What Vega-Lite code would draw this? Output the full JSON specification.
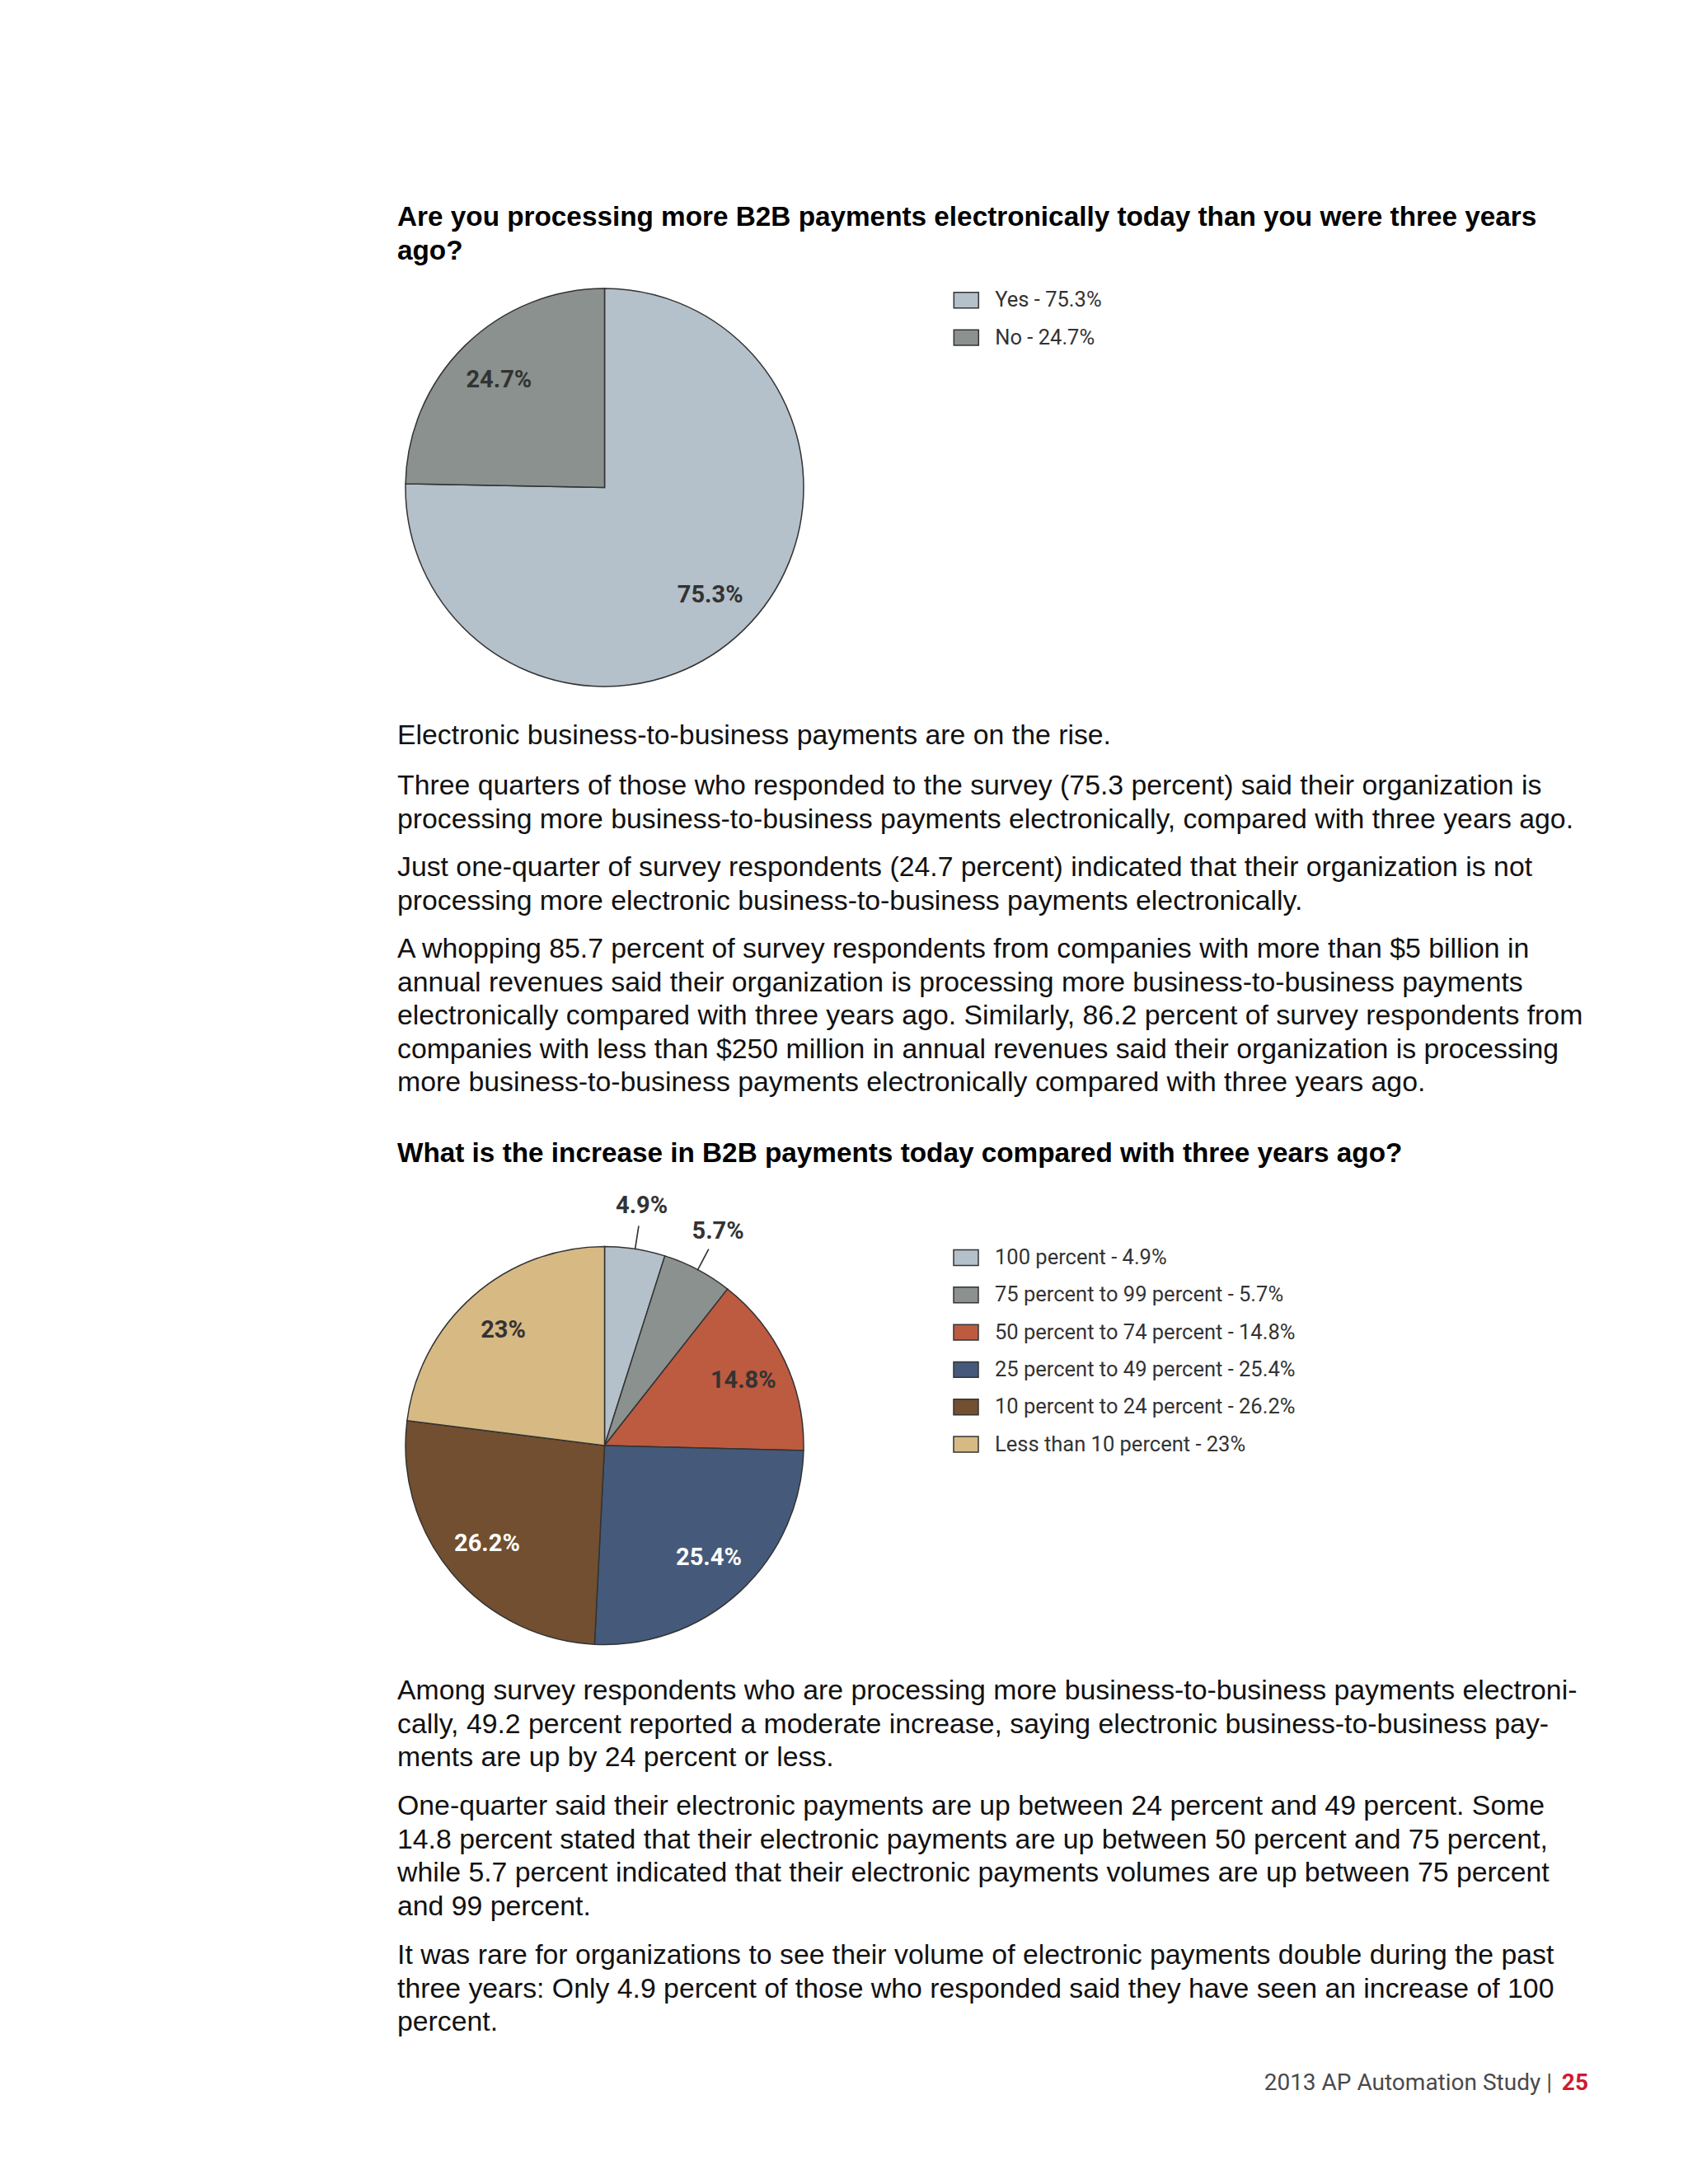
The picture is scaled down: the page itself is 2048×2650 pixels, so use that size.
{
  "$schema": "https://vega.github.io/schema/vega-lite/v6.json",
  "background": "#ffffff",
  "padding": {"left": 482, "top": 247, "right": 121, "bottom": 100},
  "config": {"view": {"stroke": null}},
  "bounds": "flush",
  "spacing": 0,
  "resolve": {"scale": {"color": "independent", "theta": "independent"}, "legend": {"color": "independent"}},
  "vconcat": [
    {
      "width": 1445, "height": 58.5,
      "data": {"values": [{"line": "Are you processing more B2B payments electronically today than you were three years\nago?"}]},
      "mark": {"type": "text", "align": "left", "baseline": "top", "x": 0, "y": 0, "lineBreak": "\n", "lineHeight": 40.6, "font": "Liberation Sans", "fontSize": 33.3, "fontWeight": "bold", "color": "#000000"},
      "encoding": {"text": {"field": "line", "type": "nominal"}}
    },
    {
      "width": 503, "height": 569,
      "data": {"values": [
        {"answer": "Yes - 75.3%", "pct": "75.3%", "share": 75.3, "rank": 1},
        {"answer": "No - 24.7%", "pct": "24.7%", "share": 24.7, "rank": 2}
      ]},
      "layer": [
        {
          "mark": {"type": "arc", "radius": 241.5, "stroke": "#333333", "strokeWidth": 1.5},
          "encoding": {
            "theta": {"field": "share", "type": "quantitative", "stack": true},
            "order": {"field": "rank", "type": "quantitative"},
            "color": {
              "field": "answer", "type": "nominal",
              "scale": {"domain": ["Yes - 75.3%", "No - 24.7%"], "range": ["#b4c0ca", "#8a918e"]},
              "legend": {"title": null, "orient": "right", "offset": 129.7, "padding": 41.3, "symbolType": "M-1,-0.63H1V0.63H-1Z", "symbolSize": 900, "symbolStrokeColor": "#333333", "symbolStrokeWidth": 1.5, "symbolOpacity": 1, "labelFont": "Roboto", "labelFontSize": 25.5, "labelColor": "#333333", "rowPadding": 15.3, "labelOffset": 19}
            }
          }
        },
        {
          "mark": {"type": "text", "radius": 183, "font": "Roboto", "fontSize": 29, "fontWeight": "bold", "color": "#333333"},
          "encoding": {
            "theta": {"field": "share", "type": "quantitative", "stack": true},
            "order": {"field": "rank", "type": "quantitative"},
            "text": {"field": "pct", "type": "nominal"}
          }
        }
      ]
    },
    {
      "width": 1445, "height": 60.4,
      "data": {"values": [{"line": "Electronic business-to-business payments are on the rise."}]},
      "mark": {"type": "text", "align": "left", "baseline": "top", "x": 0, "y": 0, "lineBreak": "\n", "lineHeight": 40.6, "font": "Liberation Sans", "fontSize": 33.8, "color": "#111111"},
      "encoding": {"text": {"field": "line", "type": "nominal"}}
    },
    {
      "width": 1445, "height": 98.5,
      "data": {"values": [{"line": "Three quarters of those who responded to the survey (75.3 percent) said their organization is\nprocessing more business-to-business payments electronically, compared with three years ago."}]},
      "mark": {"type": "text", "align": "left", "baseline": "top", "x": 0, "y": 0, "lineBreak": "\n", "lineHeight": 40.6, "font": "Liberation Sans", "fontSize": 33.8, "color": "#111111"},
      "encoding": {"text": {"field": "line", "type": "nominal"}}
    },
    {
      "width": 1445, "height": 98.5,
      "data": {"values": [{"line": "Just one-quarter of survey respondents (24.7 percent) indicated that their organization is not\nprocessing more electronic business-to-business payments electronically."}]},
      "mark": {"type": "text", "align": "left", "baseline": "top", "x": 0, "y": 0, "lineBreak": "\n", "lineHeight": 40.6, "font": "Liberation Sans", "fontSize": 33.8, "color": "#111111"},
      "encoding": {"text": {"field": "line", "type": "nominal"}}
    },
    {
      "width": 1445, "height": 248.5,
      "data": {"values": [{"line": "A whopping 85.7 percent of survey respondents from companies with more than $5 billion in\nannual revenues said their organization is processing more business-to-business payments\nelectronically compared with three years ago. Similarly, 86.2 percent of survey respondents from\ncompanies with less than $250 million in annual revenues said their organization is processing\nmore business-to-business payments electronically compared with three years ago."}]},
      "mark": {"type": "text", "align": "left", "baseline": "top", "x": 0, "y": 0, "lineBreak": "\n", "lineHeight": 40.6, "font": "Liberation Sans", "fontSize": 33.8, "color": "#111111"},
      "encoding": {"text": {"field": "line", "type": "nominal"}}
    },
    {
      "width": 1445, "height": 89,
      "data": {"values": [{"line": "What is the increase in B2B payments today compared with three years ago?"}]},
      "mark": {"type": "text", "align": "left", "baseline": "top", "x": 0, "y": 0, "lineBreak": "\n", "lineHeight": 40.6, "font": "Liberation Sans", "fontSize": 33.3, "fontWeight": "bold", "color": "#000000"},
      "encoding": {"text": {"field": "line", "type": "nominal"}}
    },
    {
      "width": 503, "height": 562,
      "data": {"values": [
        {"increase": "100 percent - 4.9%", "pct": "4.9%", "share": 4.9, "rank": 1},
        {"increase": "75 percent to 99 percent - 5.7%", "pct": "5.7%", "share": 5.7, "rank": 2},
        {"increase": "50 percent to 74 percent - 14.8%", "pct": "14.8%", "share": 14.8, "rank": 3},
        {"increase": "25 percent to 49 percent - 25.4%", "pct": "25.4%", "share": 25.4, "rank": 4},
        {"increase": "10 percent to 24 percent - 26.2%", "pct": "26.2%", "share": 26.2, "rank": 5},
        {"increase": "Less than 10 percent - 23%", "pct": "23%", "share": 23, "rank": 6}
      ]},
      "layer": [
        {
          "mark": {"type": "arc", "radius": 241.5, "stroke": "#333333", "strokeWidth": 1.5},
          "encoding": {
            "theta": {"field": "share", "type": "quantitative", "stack": true},
            "order": {"field": "rank", "type": "quantitative"},
            "color": {
              "field": "increase", "type": "nominal",
              "scale": {"domain": ["100 percent - 4.9%", "75 percent to 99 percent - 5.7%", "50 percent to 74 percent - 14.8%", "25 percent to 49 percent - 25.4%", "10 percent to 24 percent - 26.2%", "Less than 10 percent - 23%"], "range": ["#b4c0ca", "#8a918e", "#bd5b40", "#455a7a", "#714f30", "#d7b984"]},
              "legend": {"title": null, "orient": "right", "offset": 134, "padding": 37, "symbolType": "M-1,-0.63H1V0.63H-1Z", "symbolSize": 900, "symbolStrokeColor": "#333333", "symbolStrokeWidth": 1.5, "symbolOpacity": 1, "labelFont": "Roboto", "labelFontSize": 25.5, "labelColor": "#333333", "rowPadding": 15.3, "labelOffset": 19, "labelLimit": 0}
            }
          }
        },
        {
          "transform": [
            {"window": [{"op": "sum", "field": "share", "as": "cum"}], "sort": [{"field": "rank"}], "frame": [null, 0]},
            {"calculate": "datum.cum - datum.share / 2", "as": "mid"},
            {"calculate": "datum.mid + 0.01", "as": "mid2"},
            {"filter": "datum.rank <= 2"}
          ],
          "mark": {"type": "arc", "radius": 269, "radius2": 241.5, "fill": "#333333", "stroke": "#333333", "strokeWidth": 1.5},
          "encoding": {
            "theta": {"field": "mid", "type": "quantitative"},
            "theta2": {"field": "mid2"}
          }
        },
        {
          "mark": {"type": "text", "radius": 186, "font": "Roboto", "fontSize": 29, "fontWeight": "bold"},
          "encoding": {
            "theta": {"field": "share", "type": "quantitative", "stack": true},
            "order": {"field": "rank", "type": "quantitative"},
            "text": {"condition": {"test": "datum.rank <= 2", "value": ""}, "field": "pct", "type": "nominal"},
            "color": {"condition": {"test": "datum.rank == 4 || datum.rank == 5", "value": "#ffffff"}, "value": "#333333"}
          }
        },
        {
          "mark": {"type": "text", "radius": 294, "font": "Roboto", "fontSize": 29, "fontWeight": "bold", "color": "#333333"},
          "encoding": {
            "theta": {"field": "share", "type": "quantitative", "stack": true},
            "order": {"field": "rank", "type": "quantitative"},
            "text": {"condition": {"test": "datum.rank > 2", "value": ""}, "field": "pct", "type": "nominal"}
          }
        }
      ]
    },
    {
      "width": 1445, "height": 140,
      "data": {"values": [{"line": "Among survey respondents who are processing more business-to-business payments electroni-\ncally, 49.2 percent reported a moderate increase, saying electronic business-to-business pay-\nments are up by 24 percent or less."}]},
      "mark": {"type": "text", "align": "left", "baseline": "top", "x": 0, "y": 0, "lineBreak": "\n", "lineHeight": 40.6, "font": "Liberation Sans", "fontSize": 33.8, "color": "#111111"},
      "encoding": {"text": {"field": "line", "type": "nominal"}}
    },
    {
      "width": 1445, "height": 181,
      "data": {"values": [{"line": "One-quarter said their electronic payments are up between 24 percent and 49 percent. Some\n14.8 percent stated that their electronic payments are up between 50 percent and 75 percent,\nwhile 5.7 percent indicated that their electronic payments volumes are up between 75 percent\nand 99 percent."}]},
      "mark": {"type": "text", "align": "left", "baseline": "top", "x": 0, "y": 0, "lineBreak": "\n", "lineHeight": 40.6, "font": "Liberation Sans", "fontSize": 33.8, "color": "#111111"},
      "encoding": {"text": {"field": "line", "type": "nominal"}}
    },
    {
      "width": 1445, "height": 158,
      "data": {"values": [{"line": "It was rare for organizations to see their volume of electronic payments double during the past\nthree years: Only 4.9 percent of those who responded said they have seen an increase of 100\npercent."}]},
      "mark": {"type": "text", "align": "left", "baseline": "top", "x": 0, "y": 0, "lineBreak": "\n", "lineHeight": 40.6, "font": "Liberation Sans", "fontSize": 33.8, "color": "#111111"},
      "encoding": {"text": {"field": "line", "type": "nominal"}}
    },
    {
      "width": 1445, "height": 40,
      "data": {"values": [{"study": "2013 AP Automation Study |", "page": "25"}]},
      "layer": [
        {
          "mark": {"type": "text", "align": "right", "baseline": "top", "x": "width", "y": 0, "dx": -44, "font": "Roboto", "fontSize": 28, "color": "#4a4a4a"},
          "encoding": {"text": {"field": "study", "type": "nominal"}}
        },
        {
          "mark": {"type": "text", "align": "right", "baseline": "top", "x": "width", "y": 0, "font": "Roboto", "fontSize": 28, "fontWeight": "bold", "color": "#d2192f"},
          "encoding": {"text": {"field": "page", "type": "nominal"}}
        }
      ]
    }
  ]
}
